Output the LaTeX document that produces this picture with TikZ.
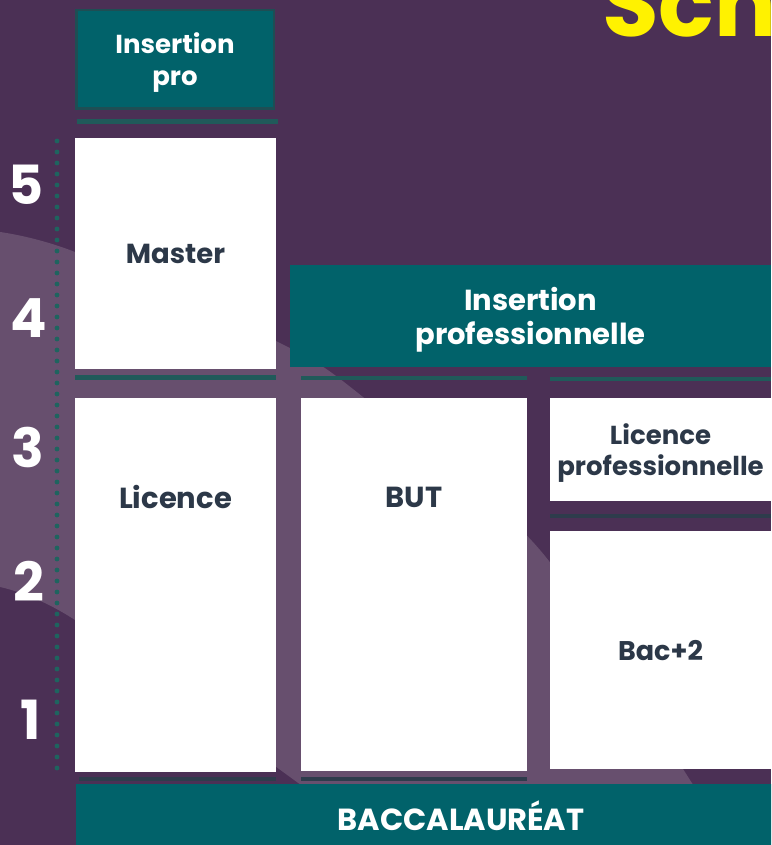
\documentclass[tikz,border=0pt]{standalone}
\usepackage{fontspec}
\setmainfont{Poppins}
\definecolor{bgdark}{RGB}{75,48,85}
\definecolor{bglight}{RGB}{103,79,110}
\definecolor{tealbg}{RGB}{1,98,106}
\definecolor{tealedge}{RGB}{30,78,84}
\definecolor{septeal}{RGB}{32,90,90}
\definecolor{dotteal}{RGB}{30,100,95}
\definecolor{sepslate}{RGB}{46,60,76}
\definecolor{textdark}{RGB}{44,56,72}
\definecolor{titleyellow}{RGB}{255,242,0}
\begin{document}
\begin{tikzpicture}[x=1pt,y=-1pt,
  whitebox/.style={fill=white,text=textdark,inner sep=0pt,align=center,text depth=0pt,
    font=\bfseries\fontsize{29}{34}\selectfont},
  tealbox/.style={fill=tealbg,text=white,inner sep=0pt,align=center,text depth=0pt,
    font=\bfseries\fontsize{29}{34}\selectfont},
  boxtext/.style={text=textdark,inner sep=0pt,font=\bfseries\fontsize{29}{34}\selectfont},
  yearnum/.style={text=white,inner sep=0pt,font=\bfseries\fontsize{54}{60}\selectfont},
  sepa/.style={fill=septeal},
  sepb/.style={fill=sepslate}]
  \useasboundingbox (0,0) rectangle (771,845);
  \clip (0,0) rectangle (771,845);

  % background and light band
  \fill[bgdark] (0,0) rectangle (771,845);
  \fill[bglight] plot[smooth] coordinates {(0,232) (75,252) (280,343) (363,397) (540,550) (690,780) (730,845)}
    -- (385,845) -- plot[smooth] coordinates {(385,845) (290,777) (75,620) (0,587)} -- cycle;

  \node[anchor=base west,inner sep=0pt,text=titleyellow,
    font=\bfseries\fontsize{92}{92}\selectfont] (title) at (602,37) {Sch};

  % years
  \foreach \k in {0,...,57}
    \fill[dotteal] (57,{141+11*\k}) circle (2.4);
  \foreach \n/\x/\y in {5/26/185,4/29/318,3/28/447,2/29/581,1/31/720}
    \node[yearnum] (year\n) at (\x,\y) {\n};

  % left column
  \node[tealbox,draw=tealedge,line width=2.5pt,minimum width=197.5pt,minimum height=98.5pt,
    font=\bfseries\fontsize{26}{32}\selectfont] (inspro) at (175,59.5) {Insertion\\pro};
  \fill[sepa] (77,119) rectangle (278,124);
  \node[whitebox,minimum width=201pt,minimum height=231pt,
    font=\bfseries\fontsize{27.5}{34}\selectfont] (master) at (175.5,253.5) {Master};
  \fill[sepa] (75,375) rectangle (276,380);
  \node[whitebox,minimum width=201pt,minimum height=374pt] (licence) at (175.5,585) {};
  \node[boxtext,anchor=base] (licencetxt) at (175.5,508) {Licence};
  \fill[sepb] (79,777) rectangle (276,781);

  % middle and right columns
  \node[tealbox,minimum width=481pt,minimum height=102pt] (insprof) at (530.5,316) {Insertion\\professionnelle};
  \fill[sepa] (301,376) rectangle (527,380);
  \fill[sepa] (550,377) rectangle (771,381);
  \node[whitebox,minimum width=226pt,minimum height=373pt] (but) at (414,584.5) {};
  \node[boxtext,anchor=base] (buttxt) at (414,507) {BUT};
  \fill[sepb] (301,777) rectangle (527,781);
  \node[whitebox,minimum width=221pt,minimum height=103pt,
    font=\bfseries\fontsize{26}{31}\selectfont] (licpro) at (660.5,449.5) {Licence\\professionnelle};
  \fill[sepb] (550,514) rectangle (771,518);
  \node[whitebox,minimum width=221pt,minimum height=238pt,
    font=\bfseries\fontsize{27}{34}\selectfont] (bacdeux) at (660.5,650) {Bac+2};

  % bottom
  \node[tealbox,minimum width=770pt,minimum height=71pt,text height=21pt,
    font=\bfseries\fontsize{30.5}{34}\selectfont] (bac) at (461,819.5) {BACCALAURÉAT};
\end{tikzpicture}
\end{document}
